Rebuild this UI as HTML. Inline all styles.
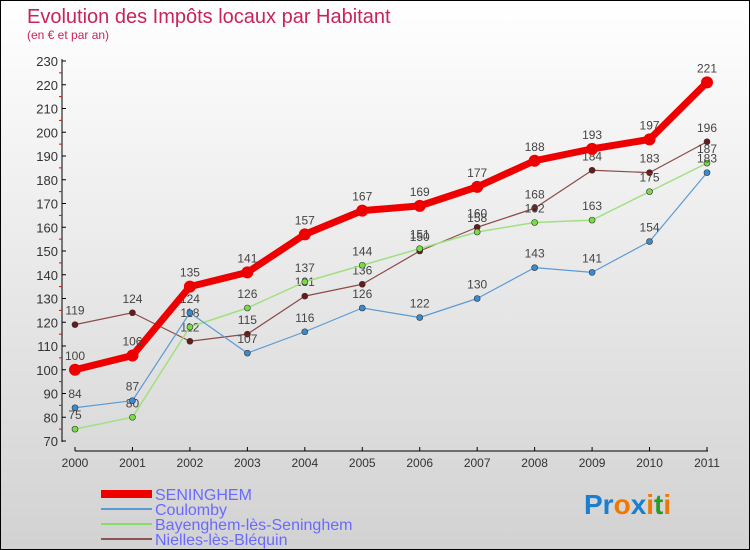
<!DOCTYPE html>
<html><head><meta charset="utf-8"><style>
body{margin:0}
#c{width:748px;height:548px;border:1px solid #000;background:linear-gradient(#fff,#d2d2d2);position:relative;font-family:"Liberation Sans",sans-serif;overflow:hidden}
</style></head><body>
<div id="c">
<svg id="s" width="748" height="548" xmlns="http://www.w3.org/2000/svg">
<text x="26" y="22" font-size="20" fill="#c8245a">Evolution des Impôts locaux par Habitant</text>
<text x="26" y="38" font-size="12" fill="#c8245a">(en € et par an)</text>
<g id="axes"></g><g id="series"></g>
<g font-size="16" fill="#6a6aff">
<rect x="100" y="489" width="51" height="8" fill="#e00"/>
<text x="154" y="499">SENINGHEM</text>
<rect x="100" y="507" width="51" height="2" fill="#5b9bd5"/>
<text x="154" y="514">Coulomby</text>
<rect x="100" y="522" width="51" height="2" fill="#88dd66"/>
<text x="154" y="529">Bayenghem-lès-Seninghem</text>
<rect x="100" y="537" width="51" height="2" fill="#8b5555"/>
<text x="154" y="544">Nielles-lès-Bléquin</text>
</g>
<text x="583" y="513" font-size="28" font-weight="bold"><tspan fill="#1a7fd0">Pr</tspan><tspan fill="#f07800">o</tspan><tspan fill="#1a7fd0">x</tspan><tspan fill="#f07800">i</tspan><tspan fill="#2a9a2a">t</tspan><tspan fill="#f07800">i</tspan></text>
</svg></div>
<script>
const years=["2000","2001","2002","2003","2004","2005","2006","2007","2008","2009","2010","2011"];
const seninghem=[100,106,135,141,157,167,169,177,188,193,197,221];
const coulomby=[84,87,124,107,116,126,122,130,143,141,154,183];
const bayenghem=[75,80,118,126,137,144,151,158,162,163,175,187];
const nielles=[119,124,112,115,131,136,150,160,168,184,183,196];
const yTicks=[70,80,90,100,110,120,130,140,150,160,170,180,190,200,210,220,230];
const NS="http://www.w3.org/2000/svg";
const X=i=>74+i*(632/11);
const Y=v=>440-(v-70)*(380/160);
function mk(t,a,p){const e=document.createElementNS(NS,t);for(const k in a)e.setAttribute(k,a[k]);p.appendChild(e);return e;}
const ax=document.getElementById('axes');
let l=mk('line',{x1:61,y1:58,x2:61,y2:441,stroke:'#000'},ax);


l=mk('line',{x1:74,y1:450,x2:707,y2:450,stroke:'#000'},ax);


yTicks.forEach(v=>{
 mk('line',{x1:61,y1:Y(v),x2:65,y2:Y(v),stroke:'#000'},ax);
 if(v<230)mk('line',{x1:58,y1:Y(v+5),x2:61,y2:Y(v+5),stroke:'#e00'},ax);
 const t=mk('text',{x:57,y:Y(v)+5,'font-size':13,fill:'#333','text-anchor':'end'},ax);
 t.textContent=v;
 
 
});
years.forEach((y,i)=>{
 mk('line',{x1:X(i),y1:446,x2:X(i),y2:450,stroke:'#000'},ax);
 const t=mk('text',{x:X(i),y:466,'font-size':12,fill:'#333','text-anchor':'middle'},ax);
 t.textContent=y;
 
 
});
const sg=document.getElementById('series');
function draw(data,color,w,r,name,dot){
 const g=mk('g',{},sg);
 
 
 const p=mk('polyline',{points:data.map((v,i)=>X(i)+','+Y(v)).join(' '),fill:'none',stroke:color,'stroke-width':w,'stroke-linejoin':'round'},g);
 
 
 data.forEach((v,i)=>{
  const c=mk('circle',{cx:X(i),cy:Y(v),r:r,fill:dot,stroke:'#333','stroke-width':w>5?0:0.6},g);
  
  
  const t=mk('text',{x:X(i),y:Y(v)-10,'font-size':12,fill:'#444','text-anchor':'middle'},g);
  t.textContent=v;
  
  
 });
}
draw(nielles,'#8b4a4a',1.2,3,'nielles','#6a1a1a');
draw(bayenghem,'#a0e080',1.5,3,'bayenghem','#77dd44');
draw(coulomby,'#5b9bd5',1.2,3,'coulomby','#3a8ad0');
draw(seninghem,'#ee0000',7,6,'seninghem','#ee0000');
</script>
</body></html>
